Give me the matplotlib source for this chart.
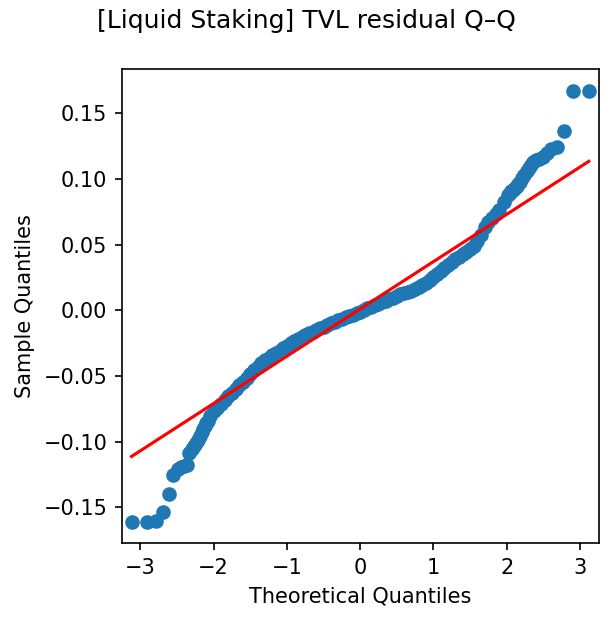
"""
Q-Q plot of TVL residuals for the Liquid Staking category.
"""
import matplotlib
matplotlib.use("Agg")
import numpy as np
import matplotlib.pyplot as plt

# theoretical (normal) quantiles and matching sample quantiles
theo_q = [
    -3.12, -2.91, -2.78, -2.69, -2.61, -2.55, -2.49, -2.44, -2.40, -2.36,
    -2.33, -2.30, -2.27, -2.24, -2.21, -2.18, -2.16, -2.14, -2.12, -2.10,
    -2.08, -2.05, -2.00, -1.95, -1.90, -1.85, -1.80, -1.75, -1.70, -1.65,
    -1.60, -1.55, -1.50, -1.45, -1.40, -1.35, -1.30, -1.25, -1.20, -1.15,
    -1.10, -1.05, -1.00, -0.95, -0.90, -0.85, -0.80, -0.75, -0.70, -0.65,
    -0.60, -0.55, -0.50, -0.45, -0.40, -0.35, -0.30, -0.25, -0.20, -0.15,
    -0.10, -0.05, 0.00, 0.05, 0.10, 0.15, 0.20, 0.25, 0.30, 0.35,
    0.40, 0.45, 0.50, 0.55, 0.60, 0.65, 0.70, 0.75, 0.80, 0.85,
    0.90, 0.95, 1.00, 1.05, 1.10, 1.15, 1.20, 1.25, 1.30, 1.35,
    1.40, 1.45, 1.50, 1.55, 1.60, 1.65, 1.70, 1.75, 1.80, 1.85,
    1.90, 1.96, 2.02, 2.04, 2.06, 2.08, 2.10, 2.12, 2.14, 2.16,
    2.18, 2.21, 2.24, 2.27, 2.30, 2.33, 2.36, 2.40, 2.44, 2.49,
    2.55, 2.61, 2.69, 2.78, 2.91, 3.12,
]
sample_q = [
    -0.1610, -0.1610, -0.1605, -0.1535, -0.1395, -0.1252, -0.1205, -0.1195, -0.1188, -0.1180,
    -0.1085, -0.1060, -0.1035, -0.1010, -0.0985, -0.0955, -0.0930, -0.0905, -0.0885, -0.0862,
    -0.0840, -0.0805, -0.0770, -0.0742, -0.0715, -0.0685, -0.0655, -0.0628, -0.0600, -0.0572,
    -0.0545, -0.0516, -0.0488, -0.0458, -0.0430, -0.0404, -0.0380, -0.0360, -0.0342, -0.0325,
    -0.0308, -0.0290, -0.0270, -0.0252, -0.0235, -0.0220, -0.0205, -0.0190, -0.0175, -0.0162,
    -0.0150, -0.0139, -0.0128, -0.0114, -0.0100, -0.0088, -0.0077, -0.0066, -0.0055, -0.0044,
    -0.0033, -0.0022, -0.0010, 0.0004, 0.0017, 0.0028, 0.0040, 0.0051, 0.0062, 0.0072,
    0.0082, 0.0092, 0.0110, 0.0120, 0.0130, 0.0140, 0.0150, 0.0165, 0.0180, 0.0195,
    0.0210, 0.0232, 0.0255, 0.0275, 0.0295, 0.0320, 0.0345, 0.0368, 0.0390, 0.0408,
    0.0425, 0.0445, 0.0465, 0.0492, 0.0525, 0.0575, 0.0630, 0.0668, 0.0700, 0.0730,
    0.0760, 0.0820, 0.0880, 0.0890, 0.0905, 0.0915, 0.0925, 0.0935, 0.0947, 0.0960,
    0.0975, 0.1005, 0.1030, 0.1060, 0.1085, 0.1105, 0.1125, 0.1140, 0.1150, 0.1165,
    0.1200, 0.1228, 0.1245, 0.1366, 0.1672, 0.1672,
]

# standardized reference line (slope = sample std, intercept = sample mean)
line_slope = 0.0360
line_intercept = 0.0010

x = np.asarray(theo_q)
y = np.asarray(sample_q)

fig = plt.figure(figsize=(613 / 150, 622 / 150), dpi=150)
ax = fig.add_axes([0.199, 0.1265, 0.7777, 0.7626])

ax.plot(x, y, "o", color="#1f77b4", markeredgecolor="#1f77b4", markersize=6)
xl = np.array([x.min(), x.max()])
ax.plot(xl, line_intercept + line_slope * xl, "r-", linewidth=1.5)

ax.set_xlim(-3.25, 3.255)
ax.set_xticks([-3, -2, -1, 0, 1, 2, 3])
ax.set_yticks([-0.15, -0.10, -0.05, 0.00, 0.05, 0.10, 0.15])
ax.set_xlabel("Theoretical Quantiles")
ax.set_ylabel("Sample Quantiles")
fig.suptitle("[Liquid Staking] TVL residual Q–Q", y=0.985)

fig.savefig("out.png", dpi=150)
